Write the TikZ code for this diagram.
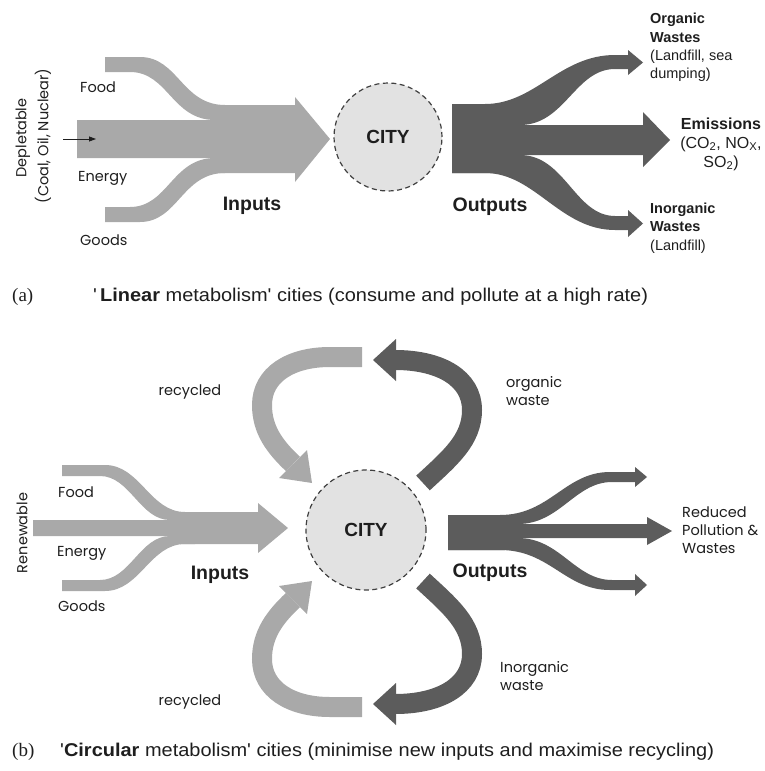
\documentclass[tikz,border=0pt]{standalone}
\usepackage{fontspec}
\setmainfont{Liberation Sans}
\newfontfamily\geo{Poppins}
\newfontfamily\capfont[FakeStretch=1.08]{Liberation Sans}
\newfontfamily\serifcap{Liberation Serif}
\usetikzlibrary{arrows.meta}

\definecolor{inflow}{HTML}{A9A9A9}
\definecolor{outflow}{HTML}{5C5C5C}
\definecolor{cityfill}{HTML}{E2E2E2}
\definecolor{ink}{HTML}{1E1E1E}

\tikzset{
  lbl/.style={font=\geo\fontsize{14.5}{18}\selectfont, text=ink, inner sep=0pt},
  head/.style={font=\bfseries\fontsize{19.5}{22}\selectfont, text=ink, inner sep=0pt},
  outlbl/.style={font=\fontsize{14.5}{18.3}\selectfont, text=ink, inner sep=0pt},
  caption/.style={font=\capfont\fontsize{18.5}{21}\selectfont, text=ink, inner sep=0pt, anchor=west},
  tag/.style={font=\serifcap\fontsize{19}{22}\selectfont, text=ink, inner sep=0pt, anchor=west},
  city/.style={circle, fill=cityfill, draw=ink!85, line width=1.2pt,
               dash pattern=on 5pt off 3.5pt, text=ink,
               font=\bfseries\fontsize{19}{22}\selectfont},
  loopin/.style={draw=inflow, line width=20pt},
  loopout/.style={draw=outflow, line width=20pt},
}

\begin{document}
\begin{tikzpicture}[x=1pt, y=-1pt]
\useasboundingbox (0,0) rectangle (764,771);

% ---------------- (a) linear metabolism ----------------
% inputs
\fill[inflow] (77,120) -- (220,120) -- (220,105) -- (295,105) -- (295,97)
  -- (330,139) -- (295,182) -- (295,173) -- (220,173) -- (220,158) -- (77,158) -- cycle;
\fill[inflow] (105,57) -- (140,57) .. controls (178,57) and (182,105) .. (225,105)
  -- (225,120) -- (215,120) .. controls (172,120) and (168,72) .. (130,72) -- (105,72) -- cycle;
\fill[inflow] (105,222) -- (140,222) .. controls (178,222) and (182,173) .. (225,173)
  -- (225,158) -- (215,158) .. controls (172,158) and (168,207) .. (130,207) -- (105,207) -- cycle;

% outputs
\fill[outflow] (452,104) -- (505,104) -- (505,125) -- (643,125) -- (643,112)
  -- (670,140) -- (643,167) -- (643,155) -- (505,155) -- (505,173) -- (452,173) -- cycle;
\fill[outflow] (452,104) -- (485,104) .. controls (535,104) and (560,55) .. (615,55)
  -- (628,55) -- (628,50) -- (643,62.5) -- (628,75) -- (628,69) -- (615,69)
  .. controls (575,69) and (565,125) .. (520,125) -- (452,125) -- cycle;
\fill[outflow] (452,173) -- (485,173) .. controls (535,173) and (560,230) .. (615,230)
  -- (628,230) -- (628,237) -- (643,223.5) -- (628,210) -- (628,216) -- (615,216)
  .. controls (575,216) and (565,155) .. (520,155) -- (452,155) -- cycle;

\node[city, minimum size=108pt] (cityA) at (388,137) {CITY};

% depletable source
\node[lbl, rotate=90] (deplA) at (23,138) {Depletable};
\node[lbl, rotate=90] (srcA) at (43,136) {(Coal, Oil, Nuclear)};
\coordinate (srcTail) at (63,139);
\coordinate (srcTip) at (96,139);
\draw[ink, line width=0.8pt, -{Triangle[length=7pt,width=5pt]}] (srcTail) -- (srcTip);

\node[lbl, anchor=west] (foodA) at (80,87) {Food};
\node[lbl, anchor=west] (energyA) at (78,178) {Energy};
\node[lbl, anchor=west] (goodsA) at (80,240) {Goods};
\node[head] (inA) at (252,206) {Inputs};
\node[head] (outA) at (490,207) {Outputs};

\node[outlbl, anchor=west, align=left] (orgA) at (650,47.5)
  {\textbf{Organic}\\\textbf{Wastes}\\(Landfill, sea\\dumping)};
\node[outlbl, align=center, font=\fontsize{16}{19}\selectfont] (emA) at (721,144)
  {\textbf{Emissions}\\(CO\textsubscript{2}, NO\textsubscript{X},\\SO\textsubscript{2})};
\node[outlbl, anchor=west, align=left] (inorgA) at (650,228)
  {\textbf{Inorganic}\\\textbf{Wastes}\\(Landfill)};

\node[tag] (tagA) at (12,297) {(a)};
\node[caption] (capA) at (93,297)
  {'\,\textbf{Linear} metabolism' cities (consume and pollute at a high rate)};

% ---------------- (b) circular metabolism ----------------
% inputs
\fill[inflow] (33,520) -- (180,520) -- (180,512) -- (258,512) -- (258,503)
  -- (288,528) -- (258,553) -- (258,544) -- (180,544) -- (180,536) -- (33,536) -- cycle;
\fill[inflow] (62,465) -- (105,465) .. controls (140,465) and (150,512) .. (185,512)
  -- (195,512) -- (195,520) -- (170,520) .. controls (140,520) and (130,476) .. (100,476)
  -- (62,476) -- cycle;
\fill[inflow] (62,591) -- (105,591) .. controls (140,591) and (150,544) .. (185,544)
  -- (195,544) -- (195,536) -- (170,536) .. controls (140,536) and (130,580) .. (100,580)
  -- (62,580) -- cycle;

% outputs
\fill[outflow] (448,515) -- (505,515) -- (505,524) -- (647,524) -- (647,517)
  -- (672,531) -- (647,545) -- (647,538) -- (505,538) -- (505,550) -- (448,550) -- cycle;
\fill[outflow] (448,515) -- (500,515) .. controls (550,515) and (565,472) .. (610,472)
  -- (635,472) -- (635,467) -- (647,477) -- (635,487) -- (635,482) -- (612,482)
  .. controls (575,482) and (560,524) .. (518,524) -- (448,524) -- cycle;
\fill[outflow] (448,550) -- (500,550) .. controls (550,550) and (565,590) .. (610,590)
  -- (635,590) -- (635,596) -- (647,585) -- (635,574) -- (635,580) -- (612,580)
  .. controls (575,580) and (560,538) .. (518,538) -- (448,538) -- cycle;

% recycling loops above the city; the lower pair is their mirror image
\foreach \flip in {1,-1}{
  \begin{scope}[shift={(0,{532-532*\flip})}, yscale=\flip]
    \draw[loopin] (362,357) -- (330,357) .. controls (290,357) and (262,375) .. (262,405)
      .. controls (262,430) and (275,447) .. (293,464);
    \fill[inflow] (279,478) -- (307,450) -- (312,483) -- cycle;
    \draw[loopout] (423,483) .. controls (450,458) and (472,440) .. (472,410)
      .. controls (472,378) and (440,360) .. (395,360);
    \fill[outflow] (396,339) -- (373,360) -- (396,381) -- cycle;
  \end{scope}
}

\node[city, minimum size=120pt] (cityB) at (366,530) {CITY};

\node[lbl, rotate=90] (renB) at (22,533) {Renewable};
\node[lbl, anchor=west] (foodB) at (58,492) {Food};
\node[lbl, anchor=west] (energyB) at (57,553) {Energy};
\node[lbl, anchor=west] (goodsB) at (58,606) {Goods};
\node[head] (inB) at (220,575) {Inputs};
\node[head] (outB) at (490,573) {Outputs};

\node[lbl] (recTop) at (190,392) {recycled};
\node[lbl] (recBot) at (190,702) {recycled};
\node[lbl, anchor=west, align=left] (orgB) at (506,391) {organic\\waste};
\node[lbl, anchor=west, align=left] (inorgB) at (500,676) {Inorganic\\waste};
\node[lbl, anchor=west, align=left] (redB) at (682,530)
  {Reduced\\Pollution \&\\Wastes};

\node[tag] (tagB) at (12,752) {(b)};
\node[caption] (capB) at (60,752)
  {'\textbf{Circular} metabolism' cities (minimise new inputs and maximise recycling)};
\end{tikzpicture}
\end{document}
